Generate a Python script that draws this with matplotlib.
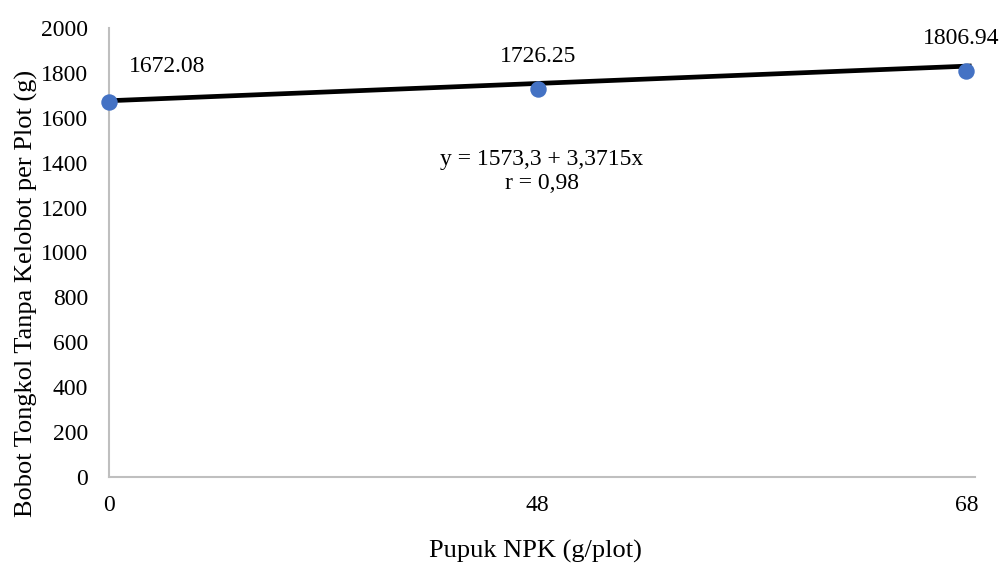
import matplotlib.pyplot as plt

categories = ["0", "48", "68"]
bobot = [1672.08, 1726.25, 1806.94]
# trend line ends
trend_ends = [1676.0, 1831.0]
equation = "y = 1573,3 + 3,3715x\nr = 0,98"
y_ticks = list(range(0, 2001, 200))

plt.rcParams["font.family"] = ["Liberation Serif", "DejaVu Serif"]

fig = plt.figure(figsize=(10.01, 5.68), dpi=100)
ax = fig.add_axes([109 / 1001, 1 - 477 / 568, 866 / 1001, 449 / 568])

x = list(range(len(categories)))
ax.plot([x[0], x[-1] + 0.012], trend_ends, color="black", lw=3.4, zorder=2,
        solid_capstyle="butt")
ax.scatter(x, bobot, s=140, color="#4472C4", zorder=3, clip_on=False,
           linewidths=0)

label_offsets = [(42, 25), (0, 24), (-4, 24)]
for xi, v, off in zip(x, bobot, label_offsets):
    ax.annotate(f"{v:.2f}", (xi, v), xytext=off, textcoords="offset points",
                ha="center", va="center", fontsize=17)

ax.text(1.01, 1360, equation, ha="center", va="center", fontsize=17,
        linespacing=1.2)

ax.set_xlim(0, 2.02)
ax.set_ylim(0, 2000)
ax.set_xticks(x)
ax.set_xticklabels(categories)
ax.set_yticks(y_ticks)
ax.tick_params(axis="both", length=0, labelsize=17)
ax.tick_params(axis="y", pad=15)
ax.tick_params(axis="x", pad=13)

for side in ["top", "right"]:
    ax.spines[side].set_visible(False)
for side in ["left", "bottom"]:
    ax.spines[side].set_color("#BFBFBF")
    ax.spines[side].set_linewidth(1.5)

ax.set_xlabel("Pupuk NPK (g/plot)", fontsize=19)
ax.set_ylabel("Bobot Tongkol Tanpa Kelobot per Plot (g)", fontsize=19)
ax.xaxis.set_label_coords(0.492, -0.14)
ax.yaxis.set_label_coords(-0.082, 0.408)

fig.savefig("out.png", dpi=100)
